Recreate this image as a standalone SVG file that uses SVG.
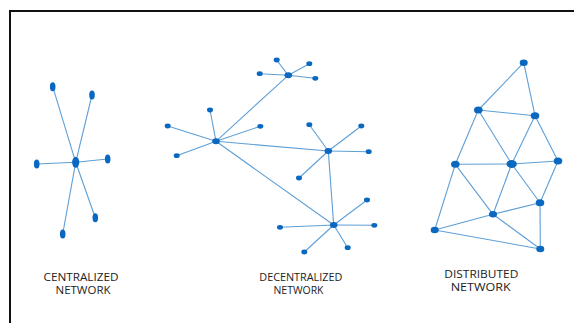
<svg xmlns="http://www.w3.org/2000/svg" width="574" height="323" viewBox="0 0 574 323">
<style>
.e{stroke:#5e9fd6;stroke-width:1.1;fill:none}
.n{fill:#0b68c0}
.t{font-family:"Open Sans","Liberation Sans",sans-serif;font-size:10px;fill:#222;text-anchor:middle}
</style>
<rect x="0" y="0" width="574" height="323" fill="#fff"/>
<rect x="10" y="11" width="600" height="340" fill="none" stroke="#111" stroke-width="2"/>
<g id="connectors">
<g id="c-centralized" class="e">
<line x1="75.7" y1="162.3" x2="52.7" y2="86.7"/>
<line x1="75.7" y1="162.3" x2="92" y2="95"/>
<line x1="75.7" y1="162.3" x2="36.7" y2="164"/>
<line x1="75.7" y1="162.3" x2="107.7" y2="159"/>
<line x1="75.7" y1="162.3" x2="95.3" y2="217.7"/>
<line x1="75.7" y1="162.3" x2="62.7" y2="234"/>
</g>
<g id="c-decentralized" class="e">
<line x1="216" y1="141.3" x2="288.3" y2="75.3"/>
<line x1="216" y1="141.3" x2="328.3" y2="151"/>
<line x1="216" y1="141.3" x2="333.7" y2="225"/>
<line x1="328.3" y1="151" x2="333.7" y2="225"/>
<line x1="216" y1="141.3" x2="167.7" y2="126"/>
<line x1="216" y1="141.3" x2="210" y2="110"/>
<line x1="216" y1="141.3" x2="260.3" y2="126.3"/>
<line x1="216" y1="141.3" x2="176.7" y2="155.7"/>
<line x1="288.3" y1="75.3" x2="276.7" y2="60"/>
<line x1="288.3" y1="75.3" x2="309.3" y2="63.7"/>
<line x1="288.3" y1="75.3" x2="259.7" y2="73.7"/>
<line x1="288.3" y1="75.3" x2="315.3" y2="78.3"/>
<line x1="328.3" y1="151" x2="309.3" y2="124.7"/>
<line x1="328.3" y1="151" x2="361.3" y2="126"/>
<line x1="328.3" y1="151" x2="368.7" y2="151.7"/>
<line x1="328.3" y1="151" x2="299" y2="178"/>
<line x1="333.7" y1="225" x2="367" y2="200"/>
<line x1="333.7" y1="225" x2="280" y2="227.3"/>
<line x1="333.7" y1="225" x2="374.3" y2="225.3"/>
<line x1="333.7" y1="225" x2="304.3" y2="252"/>
<line x1="333.7" y1="225" x2="347.7" y2="247.7"/>
</g>
<g id="c-distributed" class="e">
<line x1="523.7" y1="62.7" x2="478.3" y2="110"/>
<line x1="523.7" y1="62.7" x2="535" y2="115.7"/>
<line x1="478.3" y1="110" x2="535" y2="115.7"/>
<line x1="478.3" y1="110" x2="455.3" y2="164.3"/>
<line x1="478.3" y1="110" x2="511.7" y2="164"/>
<line x1="535" y1="115.7" x2="511.7" y2="164"/>
<line x1="535" y1="115.7" x2="558" y2="161"/>
<line x1="455.3" y1="164.3" x2="511.7" y2="164"/>
<line x1="511.7" y1="164" x2="558" y2="161"/>
<line x1="455.3" y1="164.3" x2="493" y2="214.3"/>
<line x1="455.3" y1="164.3" x2="434.7" y2="230"/>
<line x1="511.7" y1="164" x2="493" y2="214.3"/>
<line x1="511.7" y1="164" x2="540" y2="202.7"/>
<line x1="558" y1="161" x2="540" y2="202.7"/>
<line x1="493" y1="214.3" x2="540" y2="202.7"/>
<line x1="493" y1="214.3" x2="434.7" y2="230"/>
<line x1="493" y1="214.3" x2="540.3" y2="249"/>
<line x1="540" y1="202.7" x2="540.3" y2="249"/>
<line x1="434.7" y1="230" x2="540.3" y2="249"/>
</g>
</g>
<g id="centralized" class="n">
<g id="cn-hub"><ellipse cx="75.7" cy="162.3" rx="3.6" ry="5.5"/></g>
<g id="cn-1"><ellipse cx="52.7" cy="86.7" rx="2.8" ry="4.5"/></g>
<g id="cn-2"><ellipse cx="92" cy="95" rx="2.8" ry="4.5"/></g>
<g id="cn-3"><ellipse cx="36.7" cy="164" rx="2.8" ry="4.5"/></g>
<g id="cn-4"><ellipse cx="107.7" cy="159" rx="2.8" ry="4.5"/></g>
<g id="cn-5"><ellipse cx="95.3" cy="217.7" rx="2.8" ry="4.5"/></g>
<g id="cn-6"><ellipse cx="62.7" cy="234" rx="2.8" ry="4.5"/></g>
</g>
<g id="decentralized" class="n">
<g id="dn-hubA"><ellipse cx="216" cy="141.3" rx="3.8" ry="3"/></g>
<g id="dn-hubB"><ellipse cx="288.3" cy="75.3" rx="3.8" ry="3"/></g>
<g id="dn-hubC"><ellipse cx="328.3" cy="151" rx="3.8" ry="3"/></g>
<g id="dn-hubD"><ellipse cx="333.7" cy="225" rx="3.8" ry="3"/></g>
<g id="dn-a1"><ellipse cx="167.7" cy="126" rx="3" ry="2.4"/></g>
<g id="dn-a2"><ellipse cx="210" cy="110" rx="3" ry="2.4"/></g>
<g id="dn-a3"><ellipse cx="260.3" cy="126.3" rx="3" ry="2.4"/></g>
<g id="dn-a4"><ellipse cx="176.7" cy="155.7" rx="3" ry="2.4"/></g>
<g id="dn-b1"><ellipse cx="276.7" cy="60" rx="3" ry="2.4"/></g>
<g id="dn-b2"><ellipse cx="309.3" cy="63.7" rx="3" ry="2.4"/></g>
<g id="dn-b3"><ellipse cx="259.7" cy="73.7" rx="3" ry="2.4"/></g>
<g id="dn-b4"><ellipse cx="315.3" cy="78.3" rx="3" ry="2.4"/></g>
<g id="dn-c1"><ellipse cx="309.3" cy="124.7" rx="3" ry="2.4"/></g>
<g id="dn-c2"><ellipse cx="361.3" cy="126" rx="3" ry="2.4"/></g>
<g id="dn-c3"><ellipse cx="368.7" cy="151.7" rx="3" ry="2.4"/></g>
<g id="dn-c4"><ellipse cx="299" cy="178" rx="3" ry="2.4"/></g>
<g id="dn-d1"><ellipse cx="367" cy="200" rx="3" ry="2.4"/></g>
<g id="dn-d2"><ellipse cx="280" cy="227.3" rx="3" ry="2.4"/></g>
<g id="dn-d3"><ellipse cx="374.3" cy="225.3" rx="3" ry="2.4"/></g>
<g id="dn-d4"><ellipse cx="304.3" cy="252" rx="3" ry="2.4"/></g>
<g id="dn-d5"><ellipse cx="347.7" cy="247.7" rx="3" ry="2.4"/></g>
</g>
<g id="distributed" class="n">
<g id="ds-1"><ellipse cx="523.7" cy="62.7" rx="4" ry="3.2"/></g>
<g id="ds-2"><ellipse cx="478.3" cy="110" rx="4.3" ry="3.5"/></g>
<g id="ds-3"><ellipse cx="535" cy="115.7" rx="4.3" ry="3.5"/></g>
<g id="ds-4"><ellipse cx="455.3" cy="164.3" rx="4.3" ry="3.5"/></g>
<g id="ds-5"><ellipse cx="511.7" cy="164" rx="5.2" ry="4"/></g>
<g id="ds-6"><ellipse cx="558" cy="161" rx="4.3" ry="3.5"/></g>
<g id="ds-7"><ellipse cx="540" cy="202.7" rx="4.3" ry="3.5"/></g>
<g id="ds-8"><ellipse cx="493" cy="214.3" rx="4" ry="3.3"/></g>
<g id="ds-9"><ellipse cx="434.7" cy="230" rx="4" ry="3.3"/></g>
<g id="ds-10"><ellipse cx="540.3" cy="249" rx="4" ry="3.3"/></g>
</g>
<g id="labels" class="t">
<text x="81" y="280.5" textLength="75" lengthAdjust="spacingAndGlyphs">CENTRALIZED</text>
<text x="83" y="293.5" textLength="55" lengthAdjust="spacingAndGlyphs">NETWORK</text>
<text x="300.8" y="280.5" textLength="83" lengthAdjust="spacingAndGlyphs">DECENTRALIZED</text>
<text x="298.5" y="293.5" textLength="50" lengthAdjust="spacingAndGlyphs">NETWORK</text>
<text x="481.3" y="277.5" textLength="74" lengthAdjust="spacingAndGlyphs">DISTRIBUTED</text>
<text x="480.7" y="290.8" textLength="60" lengthAdjust="spacingAndGlyphs">NETWORK</text>
</g>
</svg>
